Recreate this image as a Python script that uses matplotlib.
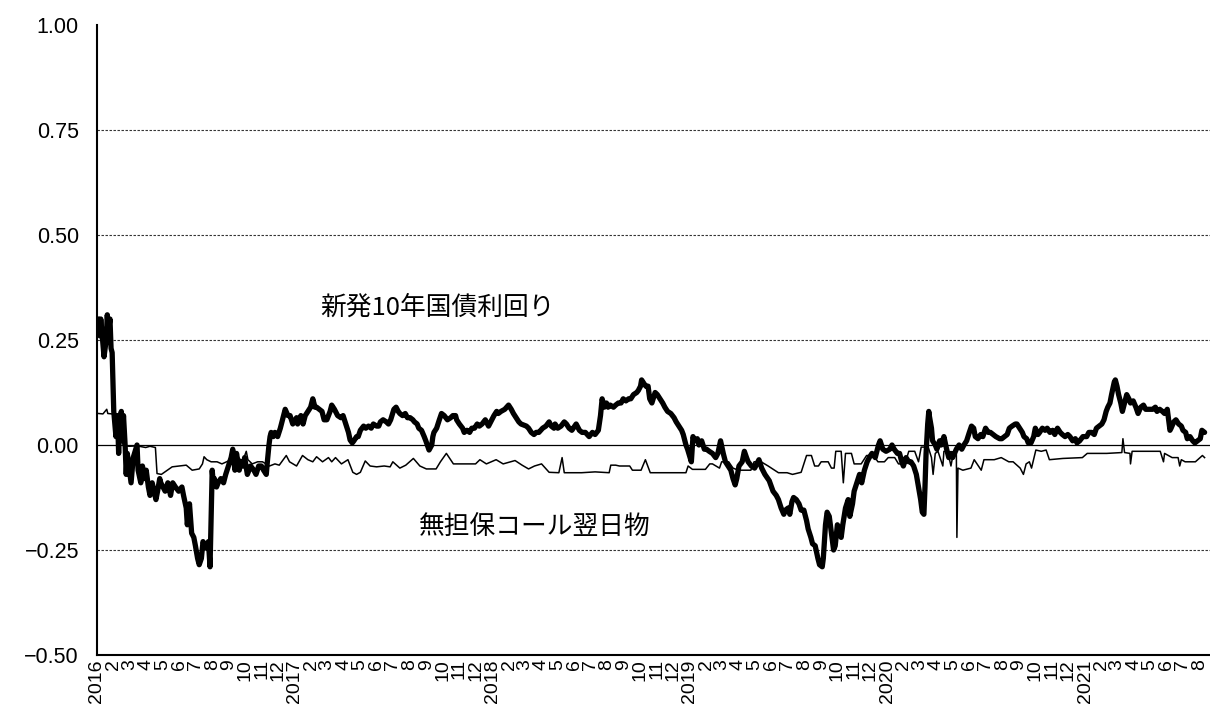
import matplotlib
matplotlib.use("Agg")
import matplotlib.pyplot as plt
import pandas as pd

plt.rcParams['font.family'] = ['Liberation Sans', 'Noto Sans CJK JP', 'DejaVu Sans']

# ---------------- data ----------------
jgb10 = [
    ("2016-01-04", 0.30), ("2016-01-06", 0.26), ("2016-01-08", 0.30), ("2016-01-12", 0.24),
    ("2016-01-14", 0.21), ("2016-01-18", 0.25), ("2016-01-20", 0.31), ("2016-01-22", 0.27),
    ("2016-01-25", 0.30), ("2016-01-27", 0.23), ("2016-01-29", 0.22), ("2016-02-01", 0.08),
    ("2016-02-03", 0.05), ("2016-02-05", 0.02), ("2016-02-08", 0.07), ("2016-02-10", -0.02),
    ("2016-02-12", 0.06), ("2016-02-15", 0.08), ("2016-02-17", 0.01), ("2016-02-19", 0.07),
    ("2016-02-22", 0.00), ("2016-02-24", -0.07), ("2016-02-26", -0.02), ("2016-03-01", -0.06),
    ("2016-03-04", -0.09), ("2016-03-08", -0.03), ("2016-03-15", 0.00), ("2016-03-17", -0.06),
    ("2016-03-22", -0.09), ("2016-03-25", -0.05), ("2016-03-29", -0.08), ("2016-04-01", -0.06),
    ("2016-04-05", -0.10), ("2016-04-08", -0.12), ("2016-04-12", -0.09), ("2016-04-19", -0.13),
    ("2016-04-22", -0.11), ("2016-04-26", -0.08), ("2016-04-28", -0.09), ("2016-05-06", -0.11),
    ("2016-05-11", -0.09), ("2016-05-16", -0.12), ("2016-05-20", -0.09), ("2016-05-25", -0.10),
    ("2016-05-31", -0.11), ("2016-06-06", -0.10), ("2016-06-09", -0.12), ("2016-06-14", -0.15),
    ("2016-06-16", -0.19), ("2016-06-20", -0.14), ("2016-06-24", -0.21), ("2016-06-28", -0.22),
    ("2016-07-01", -0.24), ("2016-07-05", -0.27), ("2016-07-08", -0.285), ("2016-07-12", -0.27),
    ("2016-07-15", -0.23), ("2016-07-20", -0.245), ("2016-07-25", -0.23), ("2016-07-28", -0.29),
    ("2016-08-01", -0.06), ("2016-08-03", -0.09), ("2016-08-05", -0.08), ("2016-08-09", -0.10),
    ("2016-08-12", -0.09), ("2016-08-17", -0.08), ("2016-08-22", -0.09), ("2016-08-26", -0.07),
    ("2016-08-31", -0.05), ("2016-09-05", -0.03), ("2016-09-08", -0.01), ("2016-09-12", -0.06),
    ("2016-09-15", -0.02), ("2016-09-20", -0.06), ("2016-09-23", -0.04), ("2016-09-27", -0.05),
    ("2016-09-30", -0.03), ("2016-10-05", -0.07), ("2016-10-11", -0.05), ("2016-10-17", -0.06),
    ("2016-10-21", -0.07), ("2016-10-26", -0.05), ("2016-10-31", -0.05), ("2016-11-04", -0.06),
    ("2016-11-09", -0.07), ("2016-11-11", -0.04), ("2016-11-14", 0.00), ("2016-11-16", 0.02),
    ("2016-11-18", 0.03), ("2016-11-22", 0.02), ("2016-11-25", 0.03), ("2016-11-30", 0.02),
    ("2016-12-05", 0.04), ("2016-12-09", 0.06), ("2016-12-14", 0.085), ("2016-12-19", 0.07),
    ("2016-12-23", 0.07), ("2016-12-28", 0.05),
    ("2017-01-04", 0.065), ("2017-01-06", 0.05), ("2017-01-12", 0.07), ("2017-01-16", 0.05),
    ("2017-01-20", 0.07), ("2017-01-25", 0.08), ("2017-01-30", 0.09), ("2017-02-03", 0.11),
    ("2017-02-07", 0.09), ("2017-02-10", 0.09), ("2017-02-15", 0.085), ("2017-02-20", 0.08),
    ("2017-02-24", 0.06), ("2017-03-01", 0.06), ("2017-03-07", 0.08), ("2017-03-10", 0.095),
    ("2017-03-15", 0.085), ("2017-03-21", 0.07), ("2017-03-27", 0.065), ("2017-03-31", 0.07),
    ("2017-04-05", 0.05), ("2017-04-10", 0.03), ("2017-04-13", 0.012), ("2017-04-17", 0.005),
    ("2017-04-20", 0.01), ("2017-04-25", 0.02), ("2017-04-28", 0.02), ("2017-05-02", 0.035),
    ("2017-05-08", 0.045), ("2017-05-12", 0.04), ("2017-05-17", 0.045), ("2017-05-22", 0.04),
    ("2017-05-26", 0.05), ("2017-06-01", 0.045), ("2017-06-05", 0.045), ("2017-06-08", 0.055),
    ("2017-06-13", 0.06), ("2017-06-19", 0.055), ("2017-06-23", 0.05), ("2017-06-27", 0.06),
    ("2017-07-03", 0.085), ("2017-07-07", 0.09), ("2017-07-11", 0.08), ("2017-07-14", 0.075),
    ("2017-07-19", 0.07), ("2017-07-24", 0.075), ("2017-07-28", 0.065), ("2017-08-02", 0.065),
    ("2017-08-07", 0.06), ("2017-08-10", 0.055), ("2017-08-15", 0.05), ("2017-08-18", 0.04),
    ("2017-08-23", 0.035), ("2017-08-28", 0.02), ("2017-08-31", 0.01), ("2017-09-06", -0.012),
    ("2017-09-11", 0.00), ("2017-09-13", 0.02), ("2017-09-15", 0.03), ("2017-09-20", 0.04),
    ("2017-09-25", 0.06), ("2017-09-29", 0.075), ("2017-10-04", 0.07), ("2017-10-10", 0.06),
    ("2017-10-16", 0.065), ("2017-10-20", 0.07), ("2017-10-25", 0.07), ("2017-10-27", 0.06),
    ("2017-11-01", 0.05), ("2017-11-07", 0.04), ("2017-11-10", 0.03), ("2017-11-15", 0.035),
    ("2017-11-20", 0.03), ("2017-11-24", 0.04), ("2017-11-29", 0.04), ("2017-12-04", 0.05),
    ("2017-12-08", 0.045), ("2017-12-13", 0.05), ("2017-12-19", 0.06), ("2017-12-25", 0.045),
    ("2018-01-04", 0.07), ("2018-01-09", 0.08), ("2018-01-12", 0.075), ("2018-01-17", 0.08),
    ("2018-01-24", 0.085), ("2018-01-31", 0.095), ("2018-02-05", 0.085), ("2018-02-09", 0.075),
    ("2018-02-14", 0.065), ("2018-02-19", 0.055), ("2018-02-23", 0.05), ("2018-03-05", 0.045),
    ("2018-03-09", 0.04), ("2018-03-14", 0.03), ("2018-03-19", 0.025), ("2018-03-23", 0.03),
    ("2018-03-28", 0.03), ("2018-04-04", 0.04), ("2018-04-10", 0.045), ("2018-04-16", 0.055),
    ("2018-04-20", 0.045), ("2018-04-25", 0.04), ("2018-04-27", 0.05), ("2018-05-02", 0.04),
    ("2018-05-08", 0.045), ("2018-05-14", 0.055), ("2018-05-18", 0.05), ("2018-05-23", 0.04),
    ("2018-05-28", 0.035), ("2018-06-05", 0.05), ("2018-06-11", 0.035), ("2018-06-16", 0.03),
    ("2018-06-22", 0.03), ("2018-06-29", 0.02), ("2018-07-05", 0.03), ("2018-07-10", 0.025),
    ("2018-07-16", 0.035), ("2018-07-20", 0.07), ("2018-07-23", 0.11), ("2018-07-25", 0.10),
    ("2018-07-27", 0.09), ("2018-07-31", 0.10), ("2018-08-03", 0.09), ("2018-08-07", 0.095),
    ("2018-08-13", 0.09), ("2018-08-17", 0.095), ("2018-08-22", 0.10), ("2018-08-27", 0.10),
    ("2018-08-31", 0.11), ("2018-09-05", 0.105), ("2018-09-10", 0.11), ("2018-09-14", 0.11),
    ("2018-09-19", 0.12), ("2018-09-25", 0.125), ("2018-09-28", 0.13), ("2018-10-02", 0.14),
    ("2018-10-04", 0.155), ("2018-10-09", 0.145), ("2018-10-12", 0.14), ("2018-10-16", 0.14),
    ("2018-10-19", 0.11), ("2018-10-23", 0.10), ("2018-10-29", 0.125), ("2018-11-02", 0.12),
    ("2018-11-07", 0.11), ("2018-11-12", 0.10), ("2018-11-16", 0.09), ("2018-11-21", 0.08),
    ("2018-11-27", 0.075), ("2018-12-03", 0.065), ("2018-12-07", 0.055), ("2018-12-12", 0.045),
    ("2018-12-17", 0.035), ("2018-12-20", 0.025), ("2018-12-25", 0.00), ("2018-12-28", -0.01),
    ("2019-01-04", -0.04), ("2019-01-07", 0.02), ("2019-01-10", 0.01), ("2019-01-15", 0.015),
    ("2019-01-18", 0.00), ("2019-01-23", 0.01), ("2019-01-28", -0.01), ("2019-02-01", -0.01),
    ("2019-02-06", -0.015), ("2019-02-12", -0.02), ("2019-02-18", -0.03), ("2019-02-22", -0.02),
    ("2019-02-27", 0.01), ("2019-03-04", -0.02), ("2019-03-08", -0.04), ("2019-03-13", -0.05),
    ("2019-03-18", -0.06), ("2019-03-22", -0.08), ("2019-03-26", -0.095), ("2019-03-29", -0.08),
    ("2019-04-02", -0.05), ("2019-04-08", -0.04), ("2019-04-12", -0.015), ("2019-04-16", -0.03),
    ("2019-04-19", -0.04), ("2019-04-25", -0.05), ("2019-05-01", -0.055), ("2019-05-09", -0.035),
    ("2019-05-14", -0.055), ("2019-05-20", -0.07), ("2019-05-28", -0.085), ("2019-06-04", -0.11),
    ("2019-06-10", -0.12), ("2019-06-14", -0.13), ("2019-06-19", -0.15), ("2019-06-24", -0.165),
    ("2019-06-27", -0.155), ("2019-07-02", -0.15), ("2019-07-05", -0.165), ("2019-07-09", -0.135),
    ("2019-07-12", -0.125), ("2019-07-17", -0.13), ("2019-07-22", -0.14), ("2019-07-26", -0.155),
    ("2019-07-31", -0.155), ("2019-08-05", -0.18), ("2019-08-08", -0.20), ("2019-08-13", -0.22),
    ("2019-08-16", -0.235), ("2019-08-21", -0.24), ("2019-08-26", -0.27), ("2019-08-29", -0.285),
    ("2019-09-03", -0.29), ("2019-09-05", -0.27), ("2019-09-09", -0.19), ("2019-09-12", -0.16),
    ("2019-09-16", -0.17), ("2019-09-19", -0.20), ("2019-09-24", -0.25), ("2019-09-27", -0.24),
    ("2019-10-01", -0.19), ("2019-10-04", -0.20), ("2019-10-08", -0.22), ("2019-10-11", -0.19),
    ("2019-10-16", -0.15), ("2019-10-21", -0.13), ("2019-10-24", -0.17), ("2019-10-29", -0.14),
    ("2019-11-01", -0.11), ("2019-11-06", -0.09), ("2019-11-11", -0.07), ("2019-11-15", -0.09),
    ("2019-11-20", -0.06), ("2019-11-25", -0.04), ("2019-11-29", -0.03), ("2019-12-04", -0.02),
    ("2019-12-10", -0.03), ("2019-12-16", 0.00), ("2019-12-19", 0.01), ("2019-12-24", -0.01),
    ("2019-12-30", -0.015),
    ("2020-01-06", -0.01), ("2020-01-10", 0.00), ("2020-01-14", -0.01), ("2020-01-20", -0.02),
    ("2020-01-24", -0.02), ("2020-01-28", -0.04), ("2020-01-31", -0.05), ("2020-02-05", -0.03),
    ("2020-02-10", -0.04), ("2020-02-14", -0.04), ("2020-02-19", -0.05), ("2020-02-24", -0.07),
    ("2020-02-28", -0.10), ("2020-03-03", -0.13), ("2020-03-06", -0.16), ("2020-03-09", -0.165),
    ("2020-03-11", -0.10), ("2020-03-13", -0.02), ("2020-03-16", 0.05), ("2020-03-18", 0.08),
    ("2020-03-19", 0.07), ("2020-03-23", 0.04), ("2020-03-25", 0.01), ("2020-03-30", 0.00),
    ("2020-04-02", -0.01), ("2020-04-07", 0.01), ("2020-04-10", 0.00), ("2020-04-15", 0.02),
    ("2020-04-20", -0.01), ("2020-04-24", -0.03), ("2020-04-28", -0.02), ("2020-05-01", -0.03),
    ("2020-05-08", -0.01), ("2020-05-13", 0.00), ("2020-05-18", -0.01), ("2020-05-22", 0.00),
    ("2020-05-27", 0.01), ("2020-06-01", 0.03), ("2020-06-05", 0.045), ("2020-06-09", 0.04),
    ("2020-06-12", 0.02), ("2020-06-17", 0.015), ("2020-06-22", 0.025), ("2020-06-26", 0.02),
    ("2020-07-01", 0.04), ("2020-07-06", 0.03), ("2020-07-10", 0.03), ("2020-07-15", 0.025),
    ("2020-07-20", 0.02), ("2020-07-27", 0.015), ("2020-07-31", 0.015), ("2020-08-05", 0.02),
    ("2020-08-10", 0.025), ("2020-08-14", 0.04), ("2020-08-19", 0.045), ("2020-08-25", 0.05),
    ("2020-08-28", 0.05), ("2020-09-02", 0.04), ("2020-09-07", 0.03), ("2020-09-10", 0.02),
    ("2020-09-15", 0.015), ("2020-09-18", 0.005), ("2020-09-23", 0.005), ("2020-09-28", 0.02),
    ("2020-10-01", 0.04), ("2020-10-06", 0.025), ("2020-10-09", 0.03), ("2020-10-14", 0.04),
    ("2020-10-19", 0.035), ("2020-10-23", 0.04), ("2020-10-28", 0.03), ("2020-11-02", 0.035),
    ("2020-11-06", 0.025), ("2020-11-11", 0.04), ("2020-11-16", 0.03), ("2020-11-20", 0.025),
    ("2020-11-25", 0.02), ("2020-11-30", 0.025), ("2020-12-04", 0.02), ("2020-12-09", 0.01),
    ("2020-12-14", 0.015), ("2020-12-17", 0.005), ("2020-12-22", 0.01), ("2020-12-28", 0.02),
    ("2021-01-04", 0.02), ("2021-01-08", 0.03), ("2021-01-13", 0.03), ("2021-01-18", 0.025),
    ("2021-01-22", 0.04), ("2021-01-27", 0.045), ("2021-02-01", 0.05), ("2021-02-05", 0.06),
    ("2021-02-09", 0.08), ("2021-02-12", 0.09), ("2021-02-16", 0.10), ("2021-02-19", 0.12),
    ("2021-02-24", 0.15), ("2021-02-26", 0.155), ("2021-03-01", 0.14), ("2021-03-04", 0.12),
    ("2021-03-08", 0.10), ("2021-03-11", 0.08), ("2021-03-16", 0.105), ("2021-03-19", 0.12),
    ("2021-03-23", 0.11), ("2021-03-26", 0.10), ("2021-03-31", 0.105), ("2021-04-05", 0.09),
    ("2021-04-09", 0.075), ("2021-04-14", 0.09), ("2021-04-19", 0.095), ("2021-04-23", 0.085),
    ("2021-04-28", 0.085), ("2021-05-06", 0.085), ("2021-05-11", 0.09), ("2021-05-14", 0.08),
    ("2021-05-19", 0.085), ("2021-05-24", 0.08), ("2021-05-28", 0.075), ("2021-06-02", 0.085),
    ("2021-06-07", 0.035), ("2021-06-09", 0.04), ("2021-06-14", 0.055), ("2021-06-18", 0.06),
    ("2021-06-23", 0.05), ("2021-06-28", 0.045), ("2021-07-01", 0.035), ("2021-07-06", 0.03),
    ("2021-07-09", 0.015), ("2021-07-14", 0.02), ("2021-07-19", 0.01), ("2021-07-23", 0.005),
    ("2021-07-28", 0.01), ("2021-08-02", 0.015), ("2021-08-05", 0.035), ("2021-08-10", 0.03),
]

call_rate = [
    ("2016-01-04", 0.075), ("2016-01-12", 0.074), ("2016-01-19", 0.085), ("2016-01-21", 0.075),
    ("2016-01-29", 0.074), ("2016-02-08", 0.07), ("2016-02-12", 0.04), ("2016-02-16", 0.01),
    ("2016-02-19", -0.002), ("2016-03-01", -0.003), ("2016-03-15", -0.002), ("2016-03-31", -0.006),
    ("2016-04-08", -0.003), ("2016-04-18", -0.006), ("2016-04-21", -0.068), ("2016-04-29", -0.07),
    ("2016-05-10", -0.06), ("2016-05-19", -0.052), ("2016-06-01", -0.05), ("2016-06-14", -0.048),
    ("2016-06-25", -0.06), ("2016-07-08", -0.057), ("2016-07-14", -0.045), ("2016-07-17", -0.028),
    ("2016-07-22", -0.035), ("2016-07-30", -0.04), ("2016-08-10", -0.04), ("2016-08-19", -0.045),
    ("2016-08-31", -0.038), ("2016-09-15", -0.025), ("2016-09-26", -0.04), ("2016-10-03", -0.015),
    ("2016-10-06", -0.035), ("2016-10-14", -0.045), ("2016-10-24", -0.04), ("2016-11-02", -0.04),
    ("2016-11-15", -0.05), ("2016-11-25", -0.045), ("2016-12-03", -0.048), ("2016-12-16", -0.025),
    ("2016-12-22", -0.04),
    ("2017-01-04", -0.05), ("2017-01-15", -0.025), ("2017-01-25", -0.035), ("2017-02-03", -0.04),
    ("2017-02-10", -0.028), ("2017-02-21", -0.04), ("2017-03-04", -0.03), ("2017-03-10", -0.04),
    ("2017-03-17", -0.03), ("2017-03-28", -0.045), ("2017-04-09", -0.035), ("2017-04-18", -0.065),
    ("2017-04-25", -0.07), ("2017-05-02", -0.065), ("2017-05-11", -0.038), ("2017-05-20", -0.05),
    ("2017-06-01", -0.052), ("2017-06-15", -0.05), ("2017-06-26", -0.052), ("2017-07-01", -0.04),
    ("2017-07-14", -0.055), ("2017-07-25", -0.048), ("2017-08-08", -0.032), ("2017-08-20", -0.05),
    ("2017-09-01", -0.057), ("2017-09-19", -0.057), ("2017-09-27", -0.04), ("2017-10-08", -0.02),
    ("2017-10-21", -0.045), ("2017-11-10", -0.045), ("2017-12-01", -0.045), ("2017-12-09", -0.035),
    ("2017-12-21", -0.045),
    ("2018-01-08", -0.035), ("2018-01-21", -0.045), ("2018-02-12", -0.037), ("2018-02-25", -0.048),
    ("2018-03-09", -0.057), ("2018-03-20", -0.05), ("2018-04-02", -0.045), ("2018-04-16", -0.065),
    ("2018-05-04", -0.066), ("2018-05-10", -0.03), ("2018-05-14", -0.066), ("2018-06-15", -0.066),
    ("2018-07-10", -0.064), ("2018-08-05", -0.066), ("2018-08-08", -0.048), ("2018-08-17", -0.048),
    ("2018-08-24", -0.05), ("2018-09-12", -0.05), ("2018-09-17", -0.06), ("2018-10-03", -0.06),
    ("2018-10-11", -0.035), ("2018-10-20", -0.066), ("2018-11-20", -0.066), ("2018-12-25", -0.066),
    ("2018-12-29", -0.05),
    ("2019-01-06", -0.058), ("2019-01-30", -0.058), ("2019-02-07", -0.045), ("2019-02-12", -0.045),
    ("2019-02-25", -0.055), ("2019-03-01", -0.04), ("2019-03-14", -0.04), ("2019-03-22", -0.055),
    ("2019-04-01", -0.06), ("2019-04-24", -0.06), ("2019-04-30", -0.04), ("2019-05-13", -0.04),
    ("2019-05-26", -0.05), ("2019-06-14", -0.066), ("2019-06-30", -0.066), ("2019-07-10", -0.07),
    ("2019-07-26", -0.065), ("2019-08-05", -0.025), ("2019-08-14", -0.025), ("2019-08-20", -0.05),
    ("2019-08-27", -0.05), ("2019-09-01", -0.04), ("2019-09-14", -0.04), ("2019-09-20", -0.055),
    ("2019-09-25", -0.055), ("2019-09-28", -0.015), ("2019-10-08", -0.015), ("2019-10-12", -0.09),
    ("2019-10-16", -0.02), ("2019-10-27", -0.02), ("2019-11-01", -0.045), ("2019-11-14", -0.045),
    ("2019-11-24", -0.025), ("2019-12-07", -0.025), ("2019-12-15", -0.04), ("2019-12-27", -0.04),
    ("2020-01-03", -0.03), ("2020-01-15", -0.03), ("2020-01-22", -0.045), ("2020-02-03", -0.045),
    ("2020-02-10", -0.015), ("2020-02-21", -0.015), ("2020-02-28", -0.04), ("2020-03-04", -0.005),
    ("2020-03-17", -0.005), ("2020-03-23", -0.03), ("2020-03-26", -0.07), ("2020-03-30", -0.02),
    ("2020-04-04", -0.015), ("2020-04-13", -0.05), ("2020-04-15", -0.015), ("2020-04-22", -0.015),
    ("2020-04-28", -0.05), ("2020-05-03", -0.015), ("2020-05-08", -0.02), ("2020-05-09", -0.22),
    ("2020-05-11", -0.055), ("2020-05-20", -0.06), ("2020-06-04", -0.055), ("2020-06-10", -0.035),
    ("2020-06-23", -0.06), ("2020-06-28", -0.035), ("2020-07-17", -0.035), ("2020-07-30", -0.03),
    ("2020-08-13", -0.04), ("2020-08-21", -0.04), ("2020-09-03", -0.055), ("2020-09-09", -0.07),
    ("2020-09-14", -0.045), ("2020-09-20", -0.04), ("2020-09-24", -0.055), ("2020-10-02", -0.012),
    ("2020-10-12", -0.015), ("2020-10-21", -0.012), ("2020-10-27", -0.035), ("2020-11-21", -0.032),
    ("2020-12-27", -0.03),
    ("2021-01-05", -0.02), ("2021-02-10", -0.02), ("2021-03-10", -0.018), ("2021-03-12", 0.015),
    ("2021-03-15", -0.018), ("2021-03-25", -0.02), ("2021-03-26", -0.045), ("2021-03-29", -0.015),
    ("2021-05-20", -0.015), ("2021-05-26", -0.04), ("2021-05-28", -0.02), ("2021-06-11", -0.03),
    ("2021-06-22", -0.03), ("2021-06-25", -0.05), ("2021-06-28", -0.035), ("2021-07-05", -0.04),
    ("2021-07-24", -0.04), ("2021-08-06", -0.025), ("2021-08-10", -0.03),
]

y_ticks = [-0.50, -0.25, 0.00, 0.25, 0.50, 0.75, 1.00]
y_tick_labels = ["\u22120.50", "\u22120.25", "0.00", "0.25", "0.50", "0.75", "1.00"]
label_jgb = "新発10年国債利回り"
label_call = "無担保コール翌日物"

# ---------------- figure ----------------
W, H = 1210, 716
fig = plt.figure(figsize=(W / 100, H / 100), dpi=100)
ax = fig.add_axes([97 / W, 61 / H, 1113 / W, 630 / H])

jd = pd.to_datetime([d for d, _ in jgb10])
jv = [v for _, v in jgb10]
cd = pd.to_datetime([d for d, _ in call_rate])
cv = [v for _, v in call_rate]

for g in [-0.25, 0.25, 0.50, 0.75]:
    ax.axhline(g, color='#333333', lw=0.8, ls=(0, (2.2, 1.4)), zorder=1)
ax.axhline(0, color='black', lw=0.9, zorder=1)

ax.plot(jd, jv, color='black', lw=3.8, solid_joinstyle='round', solid_capstyle='round', zorder=3)
ax.plot(cd, cv, color='black', lw=1.1, zorder=4)

ax.set_ylim(-0.5, 1.0)
ax.set_xlim(pd.Timestamp("2016-01-01"), pd.Timestamp("2021-08-20"))

ax.set_yticks(y_ticks)
ax.set_yticklabels(y_tick_labels, fontsize=15.5)
ax.tick_params(axis='y', length=0, pad=13)

months = pd.date_range("2016-01-01", "2021-08-01", freq="MS")
month_labels = [str(m.year) if m.month == 1 else str(m.month) for m in months]
ax.set_xticks(months)
ax.set_xticklabels(month_labels, rotation=90, fontsize=14)
ax.tick_params(axis='x', length=0, pad=3)

ax.spines['right'].set_visible(False)
ax.spines['top'].set_visible(False)
ax.spines['left'].set_linewidth(1.5)
ax.spines['bottom'].set_linewidth(1.5)

ax.text(0.306, 0.551, label_jgb, transform=ax.transAxes, ha='center', va='center',
        fontsize=18.5, family=['Noto Sans CJK JP'])
ax.text(0.393, 0.2016, label_call, transform=ax.transAxes, ha='center', va='center',
        fontsize=18.5, family=['Noto Sans CJK JP'])

fig.savefig("out.png", dpi=100)
